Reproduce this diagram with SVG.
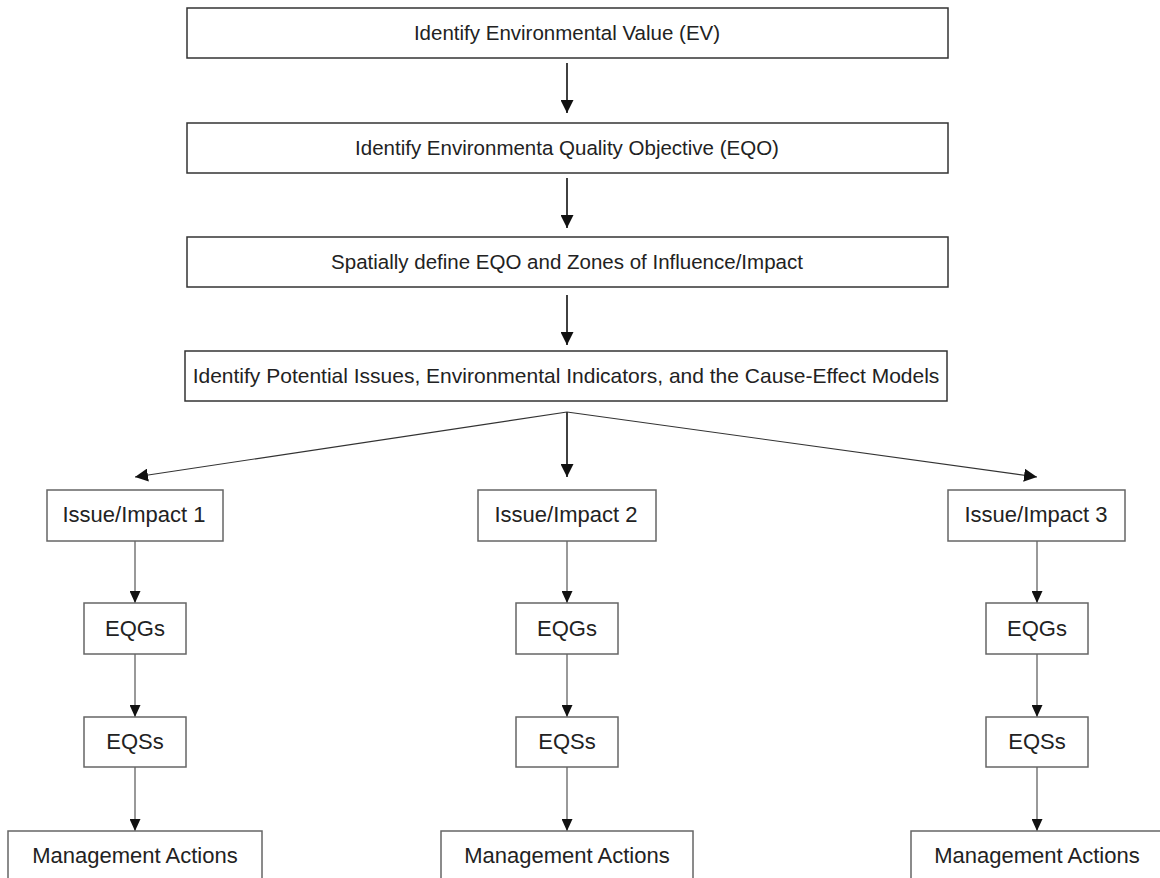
<svg xmlns="http://www.w3.org/2000/svg" width="1160" height="878" viewBox="0 0 1160 878">
<defs>
<style>
.bx{fill:#fff;stroke:#333;stroke-width:1.5}
.bl{fill:#fff;stroke:#666;stroke-width:1.5}
.t{font-family:"Liberation Sans",Arial,sans-serif;fill:#222;text-anchor:middle}
.tt{font-size:20.5px}
.t4{font-size:21px}
.tl{font-size:22px}
.ca{stroke:#111;stroke-width:1.6;fill:none}
.cf{stroke:#333;stroke-width:1.1;fill:none}
.cg{stroke:#777;stroke-width:1.5;fill:none}
</style>
<marker id="ah" markerUnits="userSpaceOnUse" markerWidth="13" markerHeight="13" refX="13" refY="6.5" orient="auto" viewBox="0 0 13 13">
<path d="M0,0 L13,6.5 L0,13 z" fill="#111"/>
</marker>
<marker id="as" markerUnits="userSpaceOnUse" markerWidth="12" markerHeight="11" refX="12" refY="5.5" orient="auto" viewBox="0 0 12 11">
<path d="M0,0 L12,5.5 L0,11 z" fill="#111"/>
</marker>
</defs>
<rect width="1160" height="878" fill="#fff"/>
<g id="connectors">
<line class="ca" x1="567" y1="63" x2="567" y2="113" marker-end="url(#ah)"/>
<line class="ca" x1="567" y1="178" x2="567" y2="228" marker-end="url(#ah)"/>
<line class="ca" x1="567" y1="295" x2="567" y2="345" marker-end="url(#ah)"/>
<line class="ca" x1="567" y1="412" x2="567" y2="477" marker-end="url(#ah)"/>
<line class="cf" x1="567" y1="412" x2="135" y2="477" marker-end="url(#ah)"/>
<line class="cf" x1="567" y1="412" x2="1037" y2="477" marker-end="url(#ah)"/>
<line class="cg" x1="135" y1="541" x2="135" y2="603" marker-end="url(#as)"/>
<line class="cg" x1="135" y1="654" x2="135" y2="717" marker-end="url(#as)"/>
<line class="cg" x1="135" y1="767" x2="135" y2="831" marker-end="url(#as)"/>
<line class="cg" x1="567" y1="541" x2="567" y2="603" marker-end="url(#as)"/>
<line class="cg" x1="567" y1="654" x2="567" y2="717" marker-end="url(#as)"/>
<line class="cg" x1="567" y1="767" x2="567" y2="831" marker-end="url(#as)"/>
<line class="cg" x1="1037" y1="541" x2="1037" y2="603" marker-end="url(#as)"/>
<line class="cg" x1="1037" y1="654" x2="1037" y2="717" marker-end="url(#as)"/>
<line class="cg" x1="1037" y1="767" x2="1037" y2="831" marker-end="url(#as)"/>
</g>
<g id="n-ev"><rect class="bx" x="187" y="8" width="761" height="50"/><text class="t tt" x="567" y="40">Identify Environmental Value (EV)</text></g>
<g id="n-eqo"><rect class="bx" x="187" y="123" width="761" height="50"/><text class="t tt" x="567" y="155">Identify Environmenta Quality Objective (EQO)</text></g>
<g id="n-spatial"><rect class="bx" x="187" y="237" width="761" height="50"/><text class="t tt" x="567" y="269">Spatially define EQO and Zones of Influence/Impact</text></g>
<g id="n-issues"><rect class="bx" x="185" y="351" width="762" height="50"/><text class="t t4" x="566" y="383">Identify Potential Issues, Environmental Indicators, and the Cause-Effect Models</text></g>
<g id="n-i1"><rect class="bl" x="47" y="490" width="176" height="51"/><text class="t tl" x="134" y="522">Issue/Impact 1</text></g>
<g id="n-i2"><rect class="bl" x="478" y="490" width="178" height="51"/><text class="t tl" x="566" y="522">Issue/Impact 2</text></g>
<g id="n-i3"><rect class="bl" x="948" y="490" width="177" height="51"/><text class="t tl" x="1036" y="522">Issue/Impact 3</text></g>
<g id="n-g1"><rect class="bl" x="84" y="603" width="102" height="51"/><text class="t tl" x="135" y="636">EQGs</text></g>
<g id="n-g2"><rect class="bl" x="516" y="603" width="102" height="51"/><text class="t tl" x="567" y="636">EQGs</text></g>
<g id="n-g3"><rect class="bl" x="986" y="603" width="102" height="51"/><text class="t tl" x="1037" y="636">EQGs</text></g>
<g id="n-s1"><rect class="bl" x="84" y="717" width="102" height="50"/><text class="t tl" x="135" y="749">EQSs</text></g>
<g id="n-s2"><rect class="bl" x="516" y="717" width="102" height="50"/><text class="t tl" x="567" y="749">EQSs</text></g>
<g id="n-s3"><rect class="bl" x="986" y="717" width="102" height="50"/><text class="t tl" x="1037" y="749">EQSs</text></g>
<g id="n-m1"><rect class="bl" x="8" y="831" width="254" height="60"/><text class="t tl" x="135" y="863">Management Actions</text></g>
<g id="n-m2"><rect class="bl" x="441" y="831" width="252" height="60"/><text class="t tl" x="567" y="863">Management Actions</text></g>
<g id="n-m3"><rect class="bl" x="911" y="831" width="253" height="60"/><text class="t tl" x="1037" y="863">Management Actions</text></g>
</svg>
